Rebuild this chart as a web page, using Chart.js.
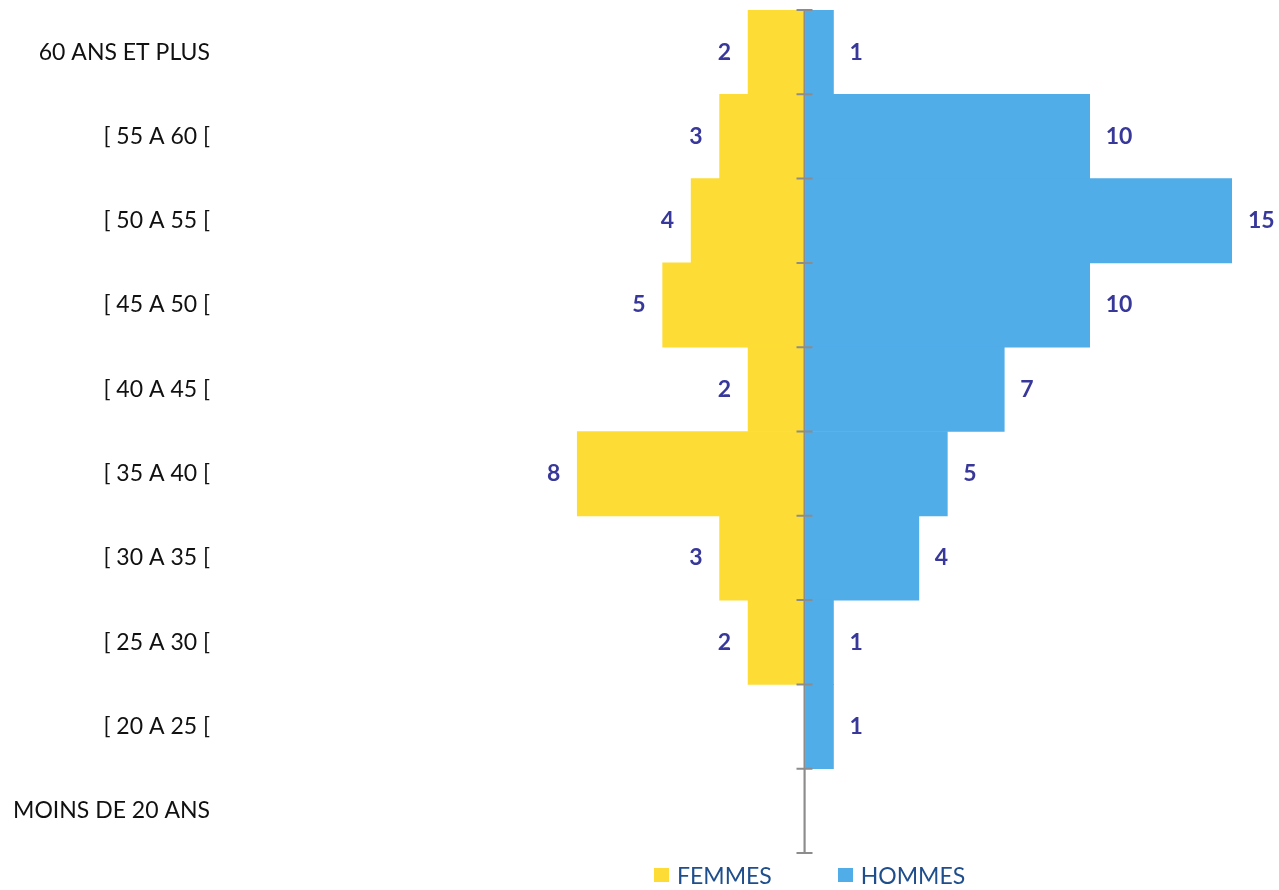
<!DOCTYPE html>
<html lang="fr">
<head>
<meta charset="utf-8">
<title>Pyramide des âges</title>
<script src="https://cdn.jsdelivr.net/npm/chart.js@4"></script>
<style>
  html, body { margin: 0; padding: 0; background: #fff; }
  .wrap { position: relative; width: 1279px; height: 890px; }
  #pyramidChart { display: block; }
  .legend {
    position: absolute; left: 654px; top: 861px;
    display: flex; gap: 66px;
    font-family: Lato, "Open Sans", sans-serif; font-size: 23px; color: #1f4e8c;
  }
  .legend-item { display: flex; align-items: center; }
  .legend-box { width: 15px; height: 14px; margin-right: 8px; }
</style>
</head>
<body>
<div class="wrap">
  <canvas id="pyramidChart" width="1279" height="890"></canvas>
  <div class="legend" id="legend"></div>
</div>
<script>
const ageGroups = [
  "60 ANS ET PLUS",
  "[ 55 A 60 [",
  "[ 50 A 55 [",
  "[ 45 A 50 [",
  "[ 40 A 45 [",
  "[ 35 A 40 [",
  "[ 30 A 35 [",
  "[ 25 A 30 [",
  "[ 20 A 25 [",
  "MOINS DE 20 ANS",
];
const femmes = [2, 3, 4, 5, 2, 8, 3, 2, 0, 0];
const hommes = [1, 10, 15, 10, 7, 5, 4, 1, 1, 0];

const seriesNames = ["FEMMES", "HOMMES"];
const seriesColors = ["#fddd35", "#50ade8"];

const fontFamily = 'Lato, "Open Sans", sans-serif';

// center axis line with a tick at each row boundary, plus the value labels
const pyramidPlugin = {
  id: "pyramid",
  afterDatasetsDraw(chart) {
    const { ctx, scales } = chart;
    const x = scales.x;
    const y = scales.y;
    const x0 = Math.round(x.getPixelForValue(0)) - 0.5;
    const step = y.getPixelForValue(1) - y.getPixelForValue(0);

    ctx.save();
    ctx.strokeStyle = "#8c8c8c";
    ctx.lineWidth = 2;
    ctx.beginPath();
    ctx.moveTo(x0, y.top);
    ctx.lineTo(x0, y.bottom);
    for (let i = 0; i <= ageGroups.length; i++) {
      const yy = y.getPixelForValue(i) - step / 2;
      ctx.moveTo(x0 - 8, yy);
      ctx.lineTo(x0 + 8, yy);
    }
    ctx.stroke();

    ctx.font = `bold 23px ${fontFamily}`;
    ctx.fillStyle = "#38389a";
    ctx.textBaseline = "middle";
    chart.data.datasets.forEach((ds, di) => {
      chart.getDatasetMeta(di).data.forEach((bar, i) => {
        const v = Math.abs(ds.data[i]);
        if (!v) return;
        if (ds.data[i] < 0) {
          ctx.textAlign = "right";
          ctx.fillText(v, bar.x - 17, bar.y);
        } else {
          ctx.textAlign = "left";
          ctx.fillText(v, bar.x + 16, bar.y);
        }
      });
    });
    ctx.restore();
  },
};

const ctx = document.getElementById("pyramidChart").getContext("2d");

new Chart(ctx, {
  type: "bar",
  data: {
    labels: ageGroups,
    datasets: [
      {
        label: seriesNames[0],
        data: femmes.map((v) => -v),
        backgroundColor: seriesColors[0],
      },
      {
        label: seriesNames[1],
        data: hommes,
        backgroundColor: seriesColors[1],
      },
    ],
  },
  options: {
    indexAxis: "y",
    responsive: false,
    animation: false,
    barPercentage: 1,
    categoryPercentage: 1,
    layout: { padding: { top: 10, right: 47, bottom: 37, left: 0 } },
    plugins: {
      legend: { display: false },
      tooltip: { enabled: false },
    },
    scales: {
      x: {
        display: false,
        stacked: true,
        min: -15,
        max: 15,
      },
      y: {
        stacked: true,
        grid: { display: false, drawTicks: false },
        border: { display: false },
        ticks: {
          color: "#111",
          padding: 168,
          font: { family: fontFamily, size: 23 },
        },
        afterFit: (scale) => {
          // wide label column, but no extra vertical padding from the tick padding
          scale.width = 378;
          scale.paddingTop = 0;
          scale.paddingBottom = 0;
        },
      },
    },
  },
  plugins: [pyramidPlugin],
});

// legend below the chart
const legendEl = document.getElementById("legend");
seriesNames.forEach((name, i) => {
  const item = document.createElement("div");
  item.className = "legend-item";
  item.innerHTML = `<span class="legend-box" style="background:${seriesColors[i]}"></span><span>${name}</span>`;
  legendEl.appendChild(item);
});
</script>
</body>
</html>
